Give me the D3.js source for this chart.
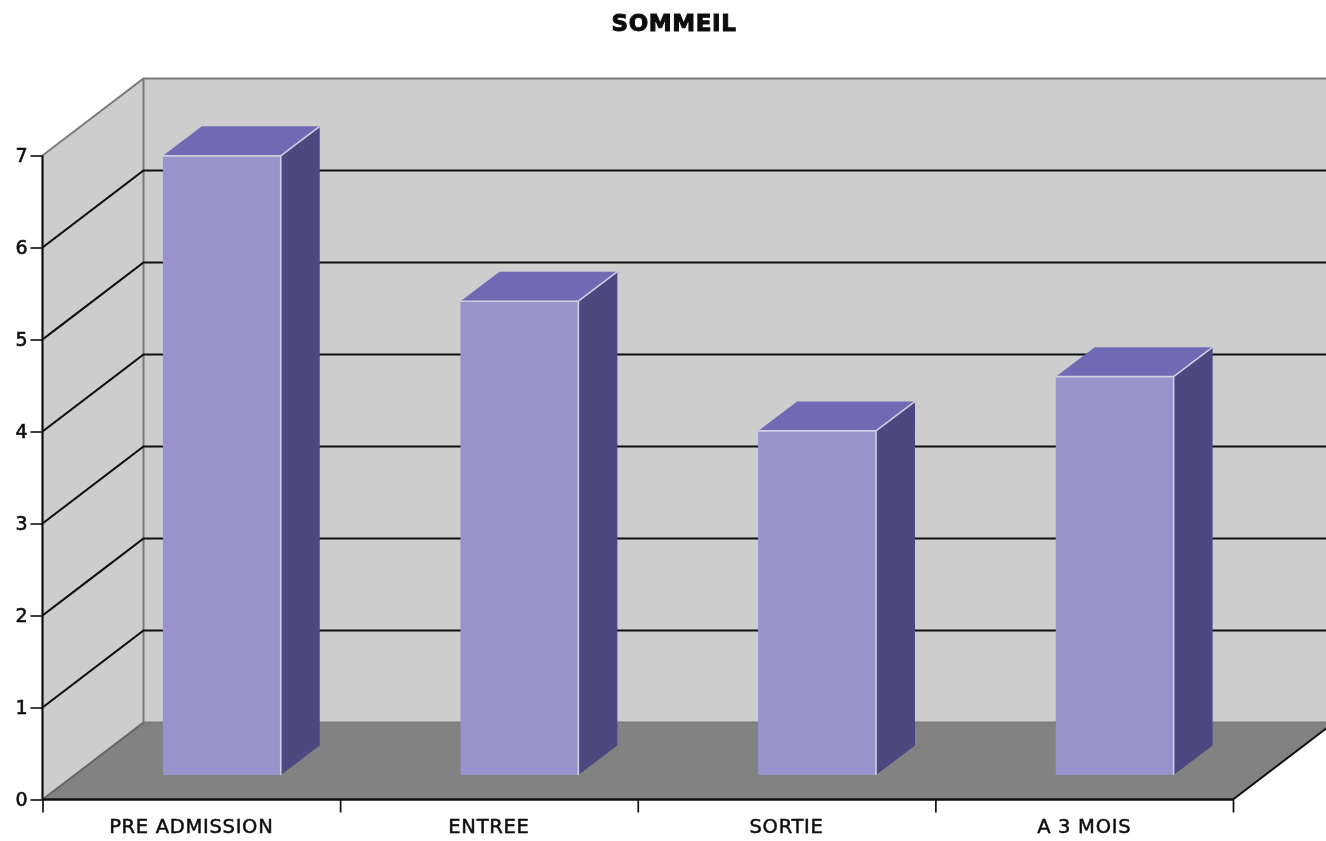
<!DOCTYPE html>
<html>
<head>
<meta charset="utf-8">
<script src="https://cdn.jsdelivr.net/npm/d3@7"></script>
<style>
html,body{margin:0;padding:0;background:#fff;overflow:hidden}
svg{display:block}
text{font-family:"DejaVu Sans",sans-serif;fill:#111}
</style>
</head>
<body>
<svg id="c" width="1326" height="841"></svg>
<script>
const chartTitle = "SOMMEIL";
const categories = ["PRE ADMISSION", "ENTREE", "SORTIE", "A 3 MOIS"];
const values = [6.73, 5.15, 3.74, 4.33];
const yTicks = [0, 1, 2, 3, 4, 5, 6, 7];

const W = 1326, H = 841;
const left = 42.5, right = 1233, base = 799.5, top7 = 155.5;
const depthX = 101, depthY = 77;
const barOffX = 30.5, barOffY = 24.5, barDepthX = 39, barDepthY = 29.5;

const svg = d3.select("#c");
const defs = svg.append("defs");
defs.append("filter").attr("id","soft").attr("filterUnits","userSpaceOnUse")
  .attr("x",0).attr("y",0).attr("width",W).attr("height",H)
  .append("feGaussianBlur").attr("stdDeviation",0.75);
const root = svg.append("g").attr("filter","url(#soft)");

const y = d3.scaleLinear().domain([0,7]).range([base, top7]);
const x = d3.scaleBand().domain(categories).range([left,right]).paddingInner(0.604).paddingOuter(0.302);
const edges = d3.scaleLinear().domain([0,categories.length]).range([left,right]);
const pts = a => a.map(p=>p.join(",")).join(" ");

// side wall
root.append("polygon").attr("fill","#cccdcc")
  .attr("points",pts([[left,y(0)],[left+depthX,y(0)-depthY],[left+depthX,y(7)-depthY],[left,y(7)]]));
// back wall
root.append("rect").attr("fill","#cccdcc")
  .attr("x",left+depthX).attr("y",y(7)-depthY).attr("width",W-left-depthX).attr("height",y(0)-y(7));
// floor
root.append("polygon").attr("fill","#828282")
  .attr("points",pts([[left,y(0)],[left+depthX,y(0)-depthY],[right+depthX,y(0)-depthY],[right,y(0)]]));

// wall outlines
const grey = "#7a7a7a";
root.append("path").attr("fill","none").attr("stroke",grey).attr("stroke-width",2)
  .attr("d",`M${left},${y(7)}L${left+depthX},${y(7)-depthY}H${W}M${left+depthX},${y(7)-depthY}V${y(0)-depthY}H${W}`);
root.append("line").attr("stroke","#666").attr("stroke-width",2)
  .attr("x1",left).attr("y1",y(0)).attr("x2",left+depthX).attr("y2",y(0)-depthY);

// grid
root.append("g").selectAll("path").data(yTicks.filter(t=>t>0&&t<7)).join("path")
  .attr("fill","none").attr("stroke","#111").attr("stroke-width",2.2)
  .attr("d",t=>`M${left},${y(t)}L${left+depthX},${y(t)-depthY}H${W}`);

// bars
const bars = root.append("g").selectAll("g").data(categories.map((c,i)=>({c,v:values[i]}))).join("g");
const fx = d => x(d.c)+barOffX;
const bw = x.bandwidth();
const fb = y(0)-barOffY;
const ft = d => y(d.v)-barOffY;
bars.append("polygon").attr("fill","#4c4a7f")
  .attr("points",d=>pts([[fx(d)+bw,ft(d)],[fx(d)+bw+barDepthX,ft(d)-barDepthY],[fx(d)+bw+barDepthX,fb-barDepthY],[fx(d)+bw,fb]]));
bars.append("polygon").attr("fill","#6f6bb5")
  .attr("points",d=>pts([[fx(d),ft(d)],[fx(d)+barDepthX,ft(d)-barDepthY],[fx(d)+bw+barDepthX,ft(d)-barDepthY],[fx(d)+bw,ft(d)]]));
bars.append("rect").attr("fill","#9993cc")
  .attr("x",fx).attr("y",ft).attr("width",bw).attr("height",d=>fb-ft(d));
bars.append("path").attr("fill","none").attr("stroke","#cfcfe0").attr("stroke-width",1.6)
  .attr("d",d=>`M${fx(d)},${ft(d)}H${fx(d)+bw}V${fb}M${fx(d)+bw},${ft(d)}L${fx(d)+bw+barDepthX},${ft(d)-barDepthY}`);

// axes
const yAxis = root.append("g").attr("transform",`translate(${left},0)`)
  .call(d3.axisLeft(y).tickValues(yTicks).tickFormat(d3.format("d")).tickSize(12).tickPadding(3));
yAxis.select(".domain").attr("stroke","#111").attr("stroke-width",2.2).attr("d",`M0,${y(7)}V${y(0)}`);
yAxis.selectAll("line").attr("stroke","#111").attr("stroke-width",1.6);
yAxis.selectAll("text").attr("font-size",19).style("stroke","#111").style("stroke-width",0.6);

const xTicks = root.append("g").attr("transform",`translate(0,${base})`)
  .call(d3.axisBottom(edges).ticks(categories.length).tickFormat("").tickSize(13));
xTicks.select(".domain").attr("stroke","#111").attr("stroke-width",2.4).attr("d",`M${left},0H${right}`);
xTicks.selectAll("line").attr("stroke","#111").attr("stroke-width",1.7);

const xLabels = root.append("g").attr("transform",`translate(0,${base})`)
  .call(d3.axisBottom(x).tickSize(0).tickPadding(20));
xLabels.select(".domain").remove();
xLabels.selectAll("text").attr("font-size",19.5).style("letter-spacing","0.7px").style("stroke","#111").style("stroke-width",0.5);

// right floor edge
root.append("line").attr("stroke","#111").attr("stroke-width",2)
  .attr("x1",right).attr("y1",y(0)).attr("x2",right+depthX).attr("y2",y(0)-depthY);

// title
root.append("text").attr("x",674).attr("y",31).attr("text-anchor","middle")
  .attr("font-size",23).attr("font-weight","bold").style("letter-spacing","0.6px")
  .style("stroke","#111").style("stroke-width",1).text(chartTitle);
</script>
</body>
</html>
